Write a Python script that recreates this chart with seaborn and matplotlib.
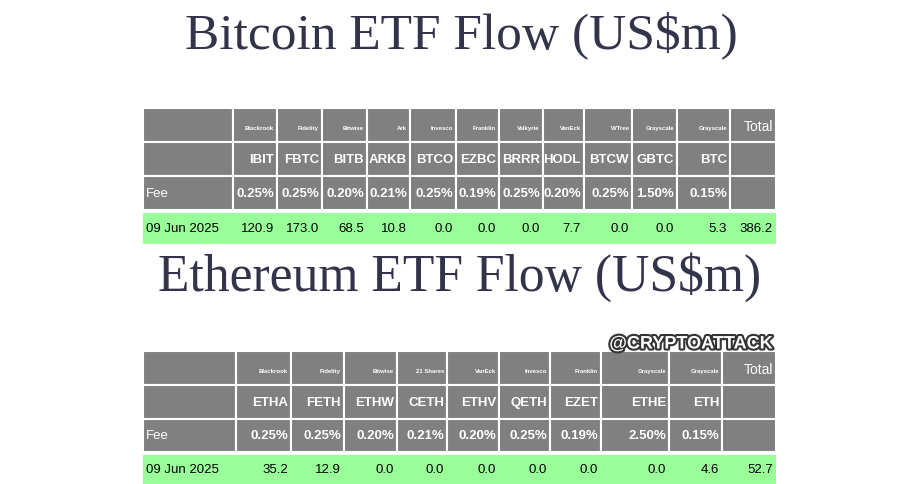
import matplotlib
matplotlib.use("Agg")
import matplotlib.pyplot as plt
import matplotlib.patheffects as pe
from matplotlib.patches import Rectangle
import seaborn as sns

# --- Data ---
BTC_ISSUERS = ['Blackrook', 'Fidelity', 'Bitwise', 'Ark', 'Invesco', 'Franklin', 'Valkyrie',
               'VanEck', 'WTree', 'Grayscale', 'Grayscale']
BTC_TICKERS = ['IBIT', 'FBTC', 'BITB', 'ARKB', 'BTCO', 'EZBC', 'BRRR', 'HODL', 'BTCW', 'GBTC', 'BTC']
BTC_FEES = ['0.25%', '0.25%', '0.20%', '0.21%', '0.25%', '0.19%', '0.25%', '0.20%', '0.25%', '1.50%', '0.15%']
BTC_FLOWS = [120.9, 173.0, 68.5, 10.8, 0.0, 0.0, 0.0, 7.7, 0.0, 0.0, 5.3]
BTC_TOTAL = 386.2

ETH_ISSUERS = ['Blackrook', 'Fidelity', 'Bitwise', '21 Shares', 'VanEck', 'Invesco', 'Franklin',
               'Grayscale', 'Grayscale']
ETH_TICKERS = ['ETHA', 'FETH', 'ETHW', 'CETH', 'ETHV', 'QETH', 'EZET', 'ETHE', 'ETH']
ETH_FEES = ['0.25%', '0.25%', '0.20%', '0.21%', '0.20%', '0.25%', '0.19%', '2.50%', '0.15%']
ETH_FLOWS = [35.2, 12.9, 0.0, 0.0, 0.0, 0.0, 0.0, 0.0, 4.6]
ETH_TOTAL = 52.7
DATE = '09 Jun 2025'

GREY = '#808080'
GREEN = '#99ff99'
TITLE_COLOR = '#33334a'
SANS = 'Liberation Sans'

sns.set_theme(style="white")


def draw_table(ax, col_edges, row_edges, issuers, tickers, fees, flows, total):
    """Draw one ETF flow table; col_edges/row_edges are pixel boundaries."""
    n = len(col_edges) - 1
    for r in range(3):
        y0, y1 = row_edges[r]
        for c in range(n):
            x0, x1 = col_edges[c], col_edges[c + 1]
            ax.add_patch(Rectangle((x0, y0), x1 - x0, y1 - y0, facecolor=GREY,
                                   edgecolor='white', linewidth=1.5))
    y0, y1 = row_edges[3]
    ax.add_patch(Rectangle((col_edges[0], y0), col_edges[-1] - col_edges[0], y1 - y0,
                           facecolor=GREEN, edgecolor='none'))
    ym = [(a + b) / 2 for a, b in row_edges]
    lx = col_edges[0] + 3
    ax.text(lx, ym[2], 'Fee', color='white', fontsize=9.5, va='center', ha='left', family=SANS)
    ax.text(lx, ym[3], DATE, color='black', fontsize=9.5, va='center', ha='left', family=SANS)
    for i in range(len(tickers)):
        xr = col_edges[i + 2] - 3
        ax.text(xr, ym[0] + 3, issuers[i], color='white', fontsize=4.3, weight='bold',
                va='center', ha='right', family=SANS)
        ax.text(xr, ym[1], tickers[i], color='white', fontsize=9.5, weight='bold',
                va='center', ha='right', family=SANS)
        ax.text(xr, ym[2], fees[i], color='white', fontsize=9.5, weight='bold',
                va='center', ha='right', family=SANS)
        ax.text(xr, ym[3], f'{flows[i]:.1f}', color='black', fontsize=9.5,
                va='center', ha='right', family=SANS)
    xr = col_edges[-1] - 3
    ax.text(xr, row_edges[0][0] + 18, 'Total', color='white', fontsize=10, va='center',
            ha='right', family=SANS)
    ax.text(xr, ym[3], f'{total:.1f}', color='black', fontsize=9.5, va='center', ha='right',
            family=SANS)


fig = plt.figure(figsize=(9.19, 4.85), dpi=100)
ax = fig.add_axes([0, 0, 1, 1])
ax.set_xlim(0, 919)
ax.set_ylim(485, 0)
ax.axis('off')

ax.text(461, 35, 'Bitcoin ETF Flow (US$m)', fontsize=37, color=TITLE_COLOR,
        family='Liberation Serif', ha='center', va='center')
ax.text(460, 277, 'Ethereum ETF Flow (US$m)', fontsize=37.2, color=TITLE_COLOR,
        family='Liberation Serif', ha='center', va='center')

btc_cols = [143, 233, 277, 322, 367, 410, 456, 499, 543, 584, 632, 677, 730, 776]
btc_rows = [(109, 143), (143, 177), (177, 211), (214, 245)]
draw_table(ax, btc_cols, btc_rows, BTC_ISSUERS, BTC_TICKERS, BTC_FEES, BTC_FLOWS, BTC_TOTAL)

eth_cols = [143, 236, 291, 344, 397, 447, 499, 550, 601, 669, 722, 776]
eth_rows = [(352, 386), (386, 420), (420, 453), (456, 485)]
draw_table(ax, eth_cols, eth_rows, ETH_ISSUERS, ETH_TICKERS, ETH_FEES, ETH_FLOWS, ETH_TOTAL)

ax.text(691, 345, '@CRYPTOATTACK', fontsize=13, weight='bold', color='white',
        family=SANS, ha='center', va='center',
        path_effects=[pe.withStroke(linewidth=3, foreground='#333333')])

fig.savefig('out.png', dpi=100, facecolor='white')
